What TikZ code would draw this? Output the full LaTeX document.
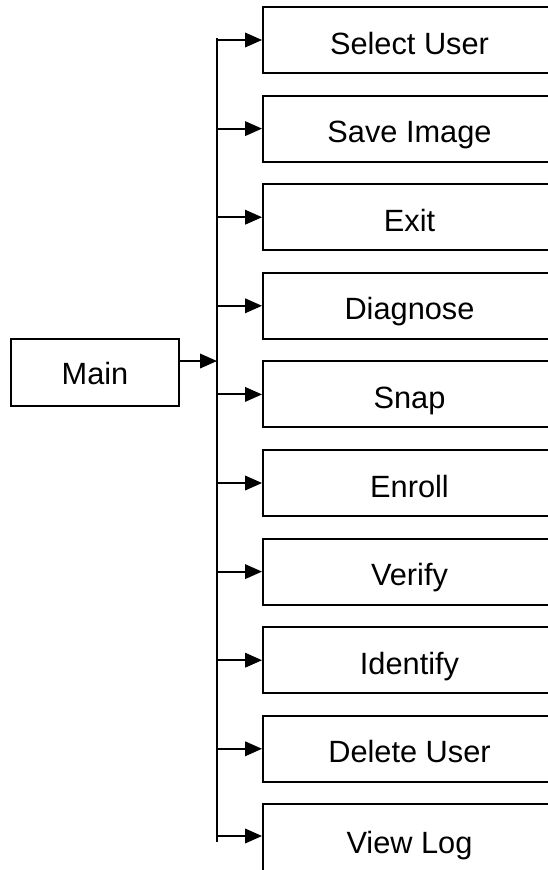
\documentclass[tikz,border=0pt]{standalone}
\usepackage{fontspec}
\setmainfont{Liberation Sans}
\usepackage{tikz}
\usetikzlibrary{arrows.meta,positioning,calc}

\begin{document}
\begin{tikzpicture}[x=0.02cm,y=-0.02cm,
		menubox/.style={draw, line width=1.1pt, minimum width=5.86cm, minimum height=1.32cm, inner sep=0pt, text height=0.56cm, text depth=0cm, font=\fontsize{17.5}{20}\selectfont},
		branch/.style={line width=1.1pt, -{Triangle[length=0.34cm,width=0.29cm]}}]
		\useasboundingbox (0,0) rectangle (548,870);
		\node [menubox, minimum width=3.36cm, minimum height=1.34cm, text height=0.48cm](main) at (95,372.5) {Main};
		% menu entries, boxes run past the right edge
		\node [menubox](select_user) at (409.5,40) {Select User};
		\node [menubox](save_image) at (409.5,128.6) {Save Image};
		\node [menubox](exit) at (409.5,217.2) {Exit};
		\node [menubox](diagnose) at (409.5,305.8) {Diagnose};
		\node [menubox](snap) at (409.5,394.4) {Snap};
		\node [menubox](enroll) at (409.5,483) {Enroll};
		\node [menubox](verify) at (409.5,571.6) {Verify};
		\node [menubox](identify) at (409.5,660.2) {Identify};
		\node [menubox](delete_user) at (409.5,748.8) {Delete User};
		\node [menubox, minimum height=1.4cm](view_log) at (409.5,839) {View Log};
		% trunk
		\coordinate (trunk_top) at (217,38);
		\coordinate (trunk_bot) at (217,842);
		\draw [line width=1.1pt] (trunk_top) -- (trunk_bot);
		\coordinate (main_out) at ([yshift=0.23cm]main.east);
		\draw [branch] (main_out) -- (main_out -| trunk_top);
		\draw [branch] (select_user.west -| trunk_top) -- (select_user.west);
		\draw [branch] (save_image.west -| trunk_top) -- (save_image.west);
		\draw [branch] (exit.west -| trunk_top) -- (exit.west);
		\draw [branch] (diagnose.west -| trunk_top) -- (diagnose.west);
		\draw [branch] (snap.west -| trunk_top) -- (snap.west);
		\draw [branch] (enroll.west -| trunk_top) -- (enroll.west);
		\draw [branch] (verify.west -| trunk_top) -- (verify.west);
		\draw [branch] (identify.west -| trunk_top) -- (identify.west);
		\draw [branch] (delete_user.west -| trunk_top) -- (delete_user.west);
		\coordinate (log_in) at ([yshift=0.06cm]view_log.west);
		\draw [branch] (log_in -| trunk_top) -- (log_in);
\end{tikzpicture}
\end{document}
